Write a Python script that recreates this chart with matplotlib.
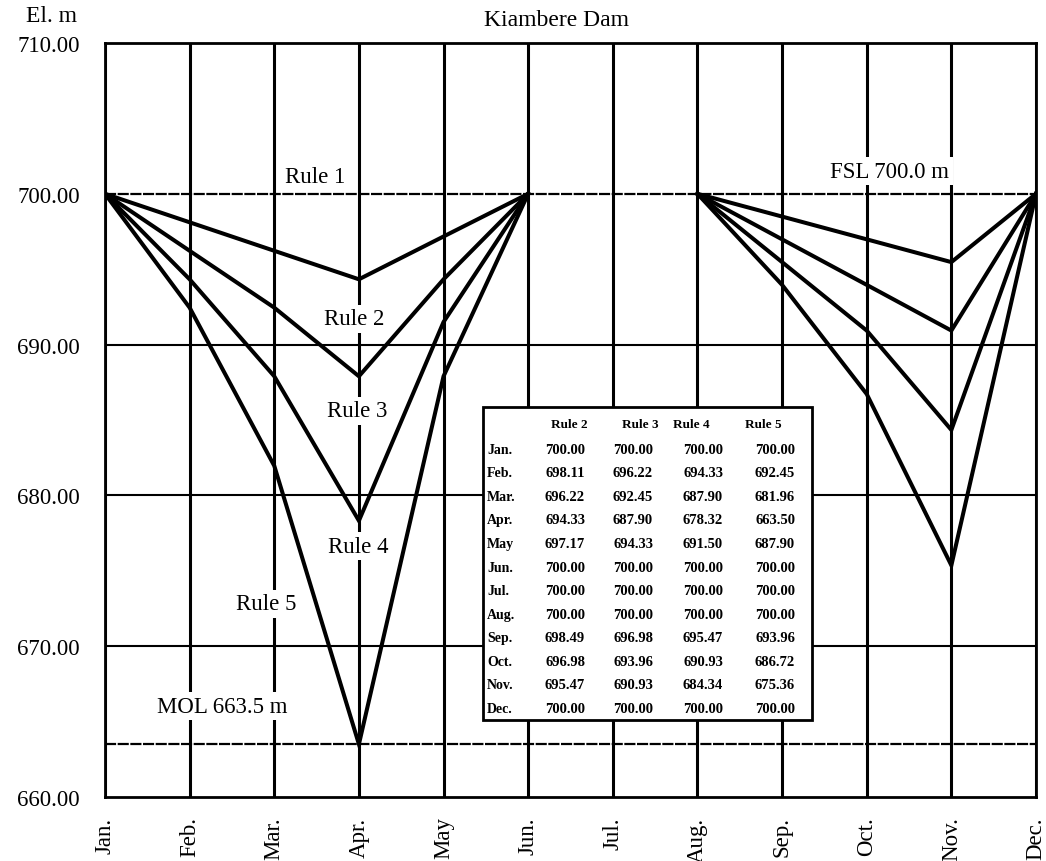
import matplotlib
matplotlib.use("Agg")
import matplotlib.pyplot as plt
import numpy as np
from matplotlib.patches import Rectangle

plt.rcParams['font.family'] = ['Liberation Serif', 'DejaVu Serif']

months = ['Jan.', 'Feb.', 'Mar.', 'Apr.', 'May', 'Jun.', 'Jul.', 'Aug.',
          'Sep.', 'Oct.', 'Nov.', 'Dec.']
rule2 = [700.00, 698.11, 696.22, 694.33, 697.17, 700.00, 700.00, 700.00,
         698.49, 696.98, 695.47, 700.00]
rule3 = [700.00, 696.22, 692.45, 687.90, 694.33, 700.00, 700.00, 700.00,
         696.98, 693.96, 690.93, 700.00]
rule4 = [700.00, 694.33, 687.90, 678.32, 691.50, 700.00, 700.00, 700.00,
         695.47, 690.93, 684.34, 700.00]
rule5 = [700.00, 692.45, 681.96, 663.50, 687.90, 700.00, 700.00, 700.00,
         693.96, 686.72, 675.36, 700.00]
rule_names = ['Rule 2', 'Rule 3', 'Rule 4', 'Rule 5']
fsl = 700.0
mol = 663.5
yticks = [660, 670, 680, 690, 700, 710]

W, H = 1046, 862
fig = plt.figure(figsize=(W / 100, H / 100), dpi=100)
ax = fig.add_axes([105 / W, 1 - 798 / H, 931 / W, 754 / H])
ax.set_xlim(0, 11)
ax.set_ylim(660, 710)

x = np.arange(len(months))

# grid
for xi in x:
    ax.axvline(xi, color='black', lw=2.2, zorder=1)
for yv in [670, 680, 690]:
    ax.axhline(yv, color='black', lw=1.5, zorder=1)
ax.axhline(fsl, color='black', lw=1.6, ls=(0, (5, 0.7)), zorder=1)
ax.axhline(mol, color='black', lw=1.6, ls=(0, (5, 0.7)), zorder=1)

for s in ax.spines.values():
    s.set_linewidth(2.0)

# rule curves: Jan-Jun and Aug-Dec
for r in [rule2, rule3, rule4, rule5]:
    r = np.array(r)
    ax.plot(x[0:6], r[0:6], color='black', lw=2.9, zorder=4,
            solid_joinstyle='miter')
    ax.plot(x[7:12], r[7:12], color='black', lw=2.9, zorder=4,
            solid_joinstyle='miter')

ax.set_xticks(x)
ax.set_xticklabels(months, rotation=90, fontsize=16.5)
ax.set_yticks(yticks)
ax.set_yticklabels([f'{v:.2f}' for v in yticks], fontsize=16.5)
ax.tick_params(axis='both', length=0)
ax.tick_params(axis='y', pad=18)
ax.tick_params(axis='x', pad=14)

bb = dict(facecolor='white', edgecolor='none', pad=2.5)
labels = [('Rule 1', 2.48, 701.18), ('Rule 2', 2.95, 691.70),
          ('Rule 3', 2.98, 685.60), ('Rule 4', 2.99, 676.64),
          ('Rule 5', 1.91, 672.80), ('MOL 663.5 m', 1.39, 666.03),
          ('FSL 700.0 m', 9.27, 701.5)]
for t, lx, ly in labels:
    ax.text(lx, ly, t, ha='center', va='center', fontsize=16.5,
            bbox=bb, zorder=3)

fig.text(556 / W, 1 - 20 / H, 'Kiambere Dam', ha='center', va='center',
         fontsize=17)
fig.text(52 / W, 1 - 17 / H, 'El. m', ha='center', va='center',
         fontsize=17)

# data table
fig.patches.append(Rectangle((483 / W, 1 - 721 / H), (812 - 483) / W,
                             (721 - 408) / H, transform=fig.transFigure,
                             facecolor='white', edgecolor='black', lw=2.0,
                             zorder=5))
col_x = [565, 633, 703, 775]
head_x = [569, 640, 691, 763]
row_y0, row_dy = 450, 23.6
for hx, name in zip(head_x, rule_names):
    fig.text(hx / W, 1 - 425 / H, name, ha='center', va='center',
             fontsize=9.5, fontweight='bold', zorder=6)
cols = [rule2, rule3, rule4, rule5]
for i, m in enumerate(months):
    yy = 1 - (row_y0 + i * row_dy) / H
    fig.text(487 / W, yy, m, ha='left', va='center', fontsize=10,
             fontweight='bold', zorder=6)
    for cx, col in zip(col_x, cols):
        fig.text(cx / W, yy, f'{col[i]:.2f}', ha='center', va='center',
                 fontsize=10.5, fontweight='bold', zorder=6)

fig.savefig('out.png', dpi=100)
